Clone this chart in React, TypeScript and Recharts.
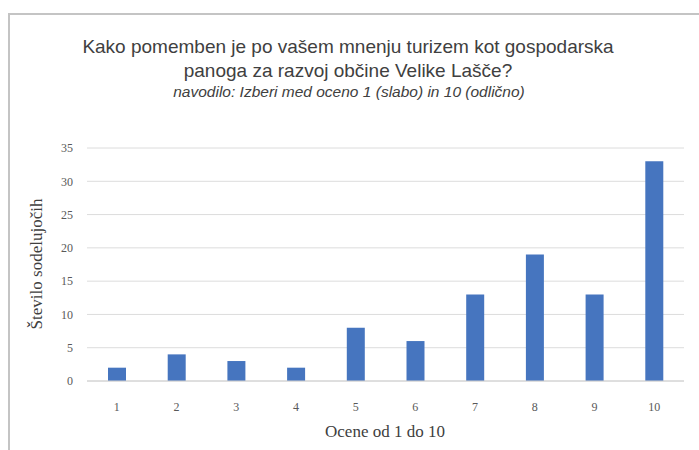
import { Bar, BarChart, CartesianGrid, XAxis, YAxis } from "recharts"

const grades = ["1", "2", "3", "4", "5", "6", "7", "8", "9", "10"]
const counts = [2, 4, 3, 2, 8, 6, 13, 19, 13, 33]
const yTicks = [0, 5, 10, 15, 20, 25, 30, 35]

const data = grades.map((g, i) => ({ grade: g, count: counts[i] }))

const serif = "'Liberation Serif', 'DejaVu Serif', serif"
const sans = "'Liberation Sans', sans-serif"

export default function App() {
  return (
    <div style={{ position: "absolute", left: 0, top: 0, width: 699, height: 450, background: "#fff", overflow: "hidden" }}>
      {/* frame */}
      <div
        style={{
          position: "absolute",
          left: 8,
          top: 13,
          width: 700,
          height: 450,
          borderLeft: "2px solid #c4c4c4",
          borderTop: "2px solid #c4c4c4",
        }}
      />
      <div
        style={{
          position: "absolute",
          left: 0,
          width: 696,
          top: 35,
          textAlign: "center",
          fontFamily: sans,
          fontSize: 19,
          lineHeight: "24px",
          color: "#404040",
        }}
      >
        Kako pomemben je po vašem mnenju turizem kot gospodarska
        <br />
        panoga za razvoj občine Velike Lašče?
      </div>
      <div
        style={{
          position: "absolute",
          left: 0,
          width: 698,
          top: 83,
          textAlign: "center",
          fontFamily: sans,
          fontStyle: "italic",
          fontSize: 15.5,
          color: "#404040",
        }}
      >
        navodilo: Izberi med oceno 1 (slabo) in 10 (odlično)
      </div>
      <div style={{ position: "absolute", left: 0, top: 0 }}>
        <BarChart width={699} height={450} data={data} margin={{ top: 148, right: 15, bottom: 0, left: 47 }}>
          <CartesianGrid vertical={false} stroke="#dcdcdc" />
          <XAxis
            dataKey="grade"
            axisLine={{ stroke: "#d0d0d0" }}
            tickLine={false}
            tickSize={0}
            tickMargin={21}
            tick={{ fill: "#595959", fontSize: 12, fontFamily: serif }}
            height={69}
          />
          <YAxis
            domain={[0, 35]}
            ticks={yTicks}
            axisLine={false}
            tickLine={false}
            tickSize={0}
            tickMargin={14}
            width={40}
            tick={{ fill: "#595959", fontSize: 12, fontFamily: serif }}
          />
          <Bar dataKey="count" fill="#4675bf" barSize={18} isAnimationActive={false} />
        </BarChart>
      </div>
      <div
        style={{
          position: "absolute",
          left: 285,
          width: 200,
          top: 422,
          textAlign: "center",
          fontFamily: serif,
          fontSize: 17,
          color: "#404040",
        }}
      >
        Ocene od 1 do 10
      </div>
      <div
        style={{
          position: "absolute",
          left: 37,
          top: 264,
          transform: "translate(-50%, -50%) rotate(-90deg)",
          whiteSpace: "nowrap",
          fontFamily: serif,
          fontSize: 17,
          color: "#404040",
        }}
      >
        Število sodelujočih
      </div>
    </div>
  )
}
